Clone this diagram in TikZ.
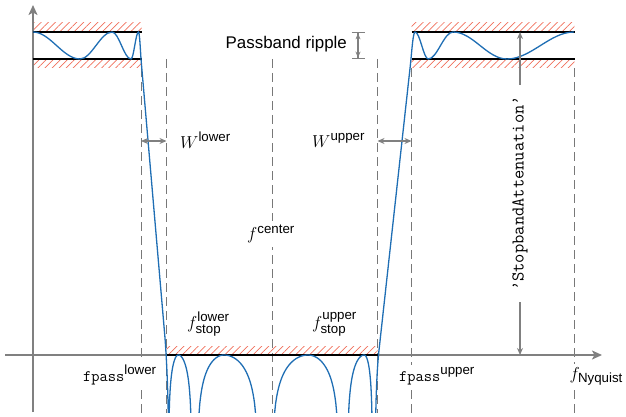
\documentclass[tikz,border=0pt]{standalone}
\usepackage{amsmath}
\usepackage{fontspec}
\setmainfont{Liberation Sans}
\usetikzlibrary{arrows.meta,patterns.meta}
\definecolor{curveblue}{RGB}{31,110,180}
\definecolor{hatchred}{RGB}{240,112,92}
\definecolor{axisgray}{RGB}{128,128,128}
\definecolor{dashgray}{RGB}{120,120,120}
\newcommand{\suptext}{\fontsize{13.3}{15}\selectfont}
\newcommand{\lblfont}{\fontsize{18}{22}\selectfont}
\tikzset{
  axisline/.style={draw=axisgray, line width=1.8pt, -{Stealth[length=10pt,width=9pt,inset=2.5pt]}},
  guide/.style={draw=dashgray, line width=0.8pt, dash pattern=on 9pt off 5pt},
  bound/.style={draw=black, line width=2.2pt},
  hatchbox/.style={pattern={Lines[angle=45,distance=5pt,line width=0.7pt]}, pattern color=hatchred},
  resp/.style={draw=curveblue, line width=1.3pt},
  dimarrow/.style={draw=axisgray, line width=1.4pt, {Stealth[length=7pt,width=6pt]}-{Stealth[length=7pt,width=6pt]}},
  barrow/.style={draw=axisgray, line width=1.4pt, {Bar[width=13pt]Stealth[length=6pt,width=5pt]}-{Stealth[length=6pt,width=5pt]Bar[width=13pt]}},
  lbl/.style={fill=white, inner sep=3pt, anchor=base west, font=\lblfont},
}
\begin{document}
\begin{tikzpicture}[x=1pt,y=-1pt]
\useasboundingbox (0,0) rectangle (626,417);
% guide lines
\begin{scope}
  \clip (0,0) rectangle (626,412);
  \foreach \gx/\gy in {141/68,166.5/59,272.5/59,377.5/59,411.5/68,574/68}
    \draw[guide] (\gx,\gy) -- (\gx,420);
\end{scope}
% hatched tolerance regions
\fill[hatchbox] (33,23) rectangle (141.5,32);
\fill[hatchbox] (33,59) rectangle (141.5,68);
\fill[hatchbox] (411.5,23) rectangle (574.5,32);
\fill[hatchbox] (411.5,59) rectangle (574.5,68);
\fill[hatchbox] (166.5,346.5) rectangle (377.5,355);
% axes
\coordinate (xs) at (5,355);
\coordinate (xe) at (602,355);
\coordinate (ys) at (33,412);
\coordinate (ye) at (33,5);
\draw[axisline] (xs) -- (xe);
\draw[axisline] (ys) -- (ye);
% bounds
\draw[bound] (33,32) -- (141.5,32);
\draw[bound] (33,59) -- (141.5,59);
\draw[bound] (411.5,32) -- (574.5,32);
\draw[bound] (411.5,59) -- (574.5,59);
\draw[bound] (166.5,355) -- (377.5,355);
% response curve
\begin{scope}
  \clip (0,0) rectangle (626,412);
  \draw[resp] (33,32) .. controls (50,32) and (63,59) .. (80,59)
    .. controls (91.5,59) and (100.5,32) .. (112,32)
    .. controls (119,32) and (124,59) .. (131,59)
    .. controls (133.7,59) and (135.8,32) .. (138.5,32)
    .. controls (139.5,32) and (140.3,48) .. (141,59)
    -- (165,338)
    .. controls (166.5,358) and (168.2,390) .. (168.6,440)
    plot[domain=2:90, samples=45, variable=\t] ({168.6+(178.3-168.6)*\t/90}, {355-25*ln(sin(\t))})
    plot[domain=0:88, samples=45, variable=\t] ({178.3+(191.6-178.3)*\t/90}, {355-25*ln(cos(\t))})
    plot[domain=2:90, samples=45, variable=\t] ({197.4+(224-197.4)*\t/90}, {355-25*ln(sin(\t))})
    plot[domain=0:88, samples=45, variable=\t] ({224+(257.6-224)*\t/90}, {355-25*ln(cos(\t))})
    plot[domain=2:90, samples=45, variable=\t] ({272.4+(308-272.4)*\t/90}, {355-25*ln(sin(\t))})
    plot[domain=0:88, samples=45, variable=\t] ({308+(338.6-308)*\t/90}, {355-25*ln(cos(\t))})
    plot[domain=2:90, samples=45, variable=\t] ({347.6+(364.3-347.6)*\t/90}, {355-25*ln(sin(\t))})
    plot[domain=0:88, samples=45, variable=\t] ({364.3+(372.4-364.3)*\t/90}, {355-25*ln(cos(\t))})
    -- (375.4,440)
    .. controls (375.8,395) and (377,370) .. (378.8,352)
    -- (410.7,62)
    .. controls (411.8,50) and (413.2,32) .. (415,32)
    .. controls (420,32) and (423.5,59) .. (428.3,59)
    .. controls (437,59) and (444,32) .. (453,32)
    .. controls (473,32) and (487,59) .. (507,59)
    .. controls (531,59) and (550,32) .. (574,32);
\end{scope}
% dimension arrows
\coordinate (wl1) at (141,141);
\coordinate (wl2) at (166.5,141);
\coordinate (wu1) at (377.5,141);
\coordinate (wu2) at (411.5,141);
\coordinate (pr1) at (358,32);
\coordinate (pr2) at (358,59);
\coordinate (sa1) at (520,32);
\coordinate (sa2) at (520,355);
\draw[dimarrow] (wl1) -- (wl2);
\draw[dimarrow] (wu1) -- (wu2);
\draw[barrow] (pr1) -- (pr2);
\draw[dimarrow] (sa1) -- node[fill=white, rotate=90, inner xsep=11.5pt, inner ysep=3pt, font=\ttfamily\fontsize{18}{20}\selectfont] (satt) {\textquoteright StopbandAttenuation\textquoteright} (sa2);
% labels
\node[anchor=base west, inner sep=0pt, font=\fontsize{16.9}{20}\selectfont] (ripple) at (225.5,49) {Passband ripple};
\node[lbl] (wlow) at (177,148) {$W^{\text{\suptext lower}}$};
\node[lbl] (wup) at (309,147) {$W^{\text{\suptext upper}}$};
\node[lbl, inner sep=4pt] (fcen) at (243,239.5) {$f^{\text{\suptext center}}$};
\node[lbl] (fsl) at (184,328) {$f^{\text{\suptext lower}}_{\text{\suptext stop}}$};
\node[lbl] (fsu) at (309,328) {$f^{\text{\suptext upper}}_{\text{\suptext stop}}$};
\node[lbl, font=\fontsize{16}{19}\selectfont] (fpl) at (80,381) {\texttt{fpass}$^{\text{\suptext lower}}$};
\node[lbl, font=\fontsize{16}{19}\selectfont] (fpu) at (396,381) {\texttt{fpass}$^{\text{\suptext upper}}$};
\node[lbl] (fny) at (566.5,379) {$f_{\text{\suptext Nyquist}}$};
\end{tikzpicture}
\end{document}
